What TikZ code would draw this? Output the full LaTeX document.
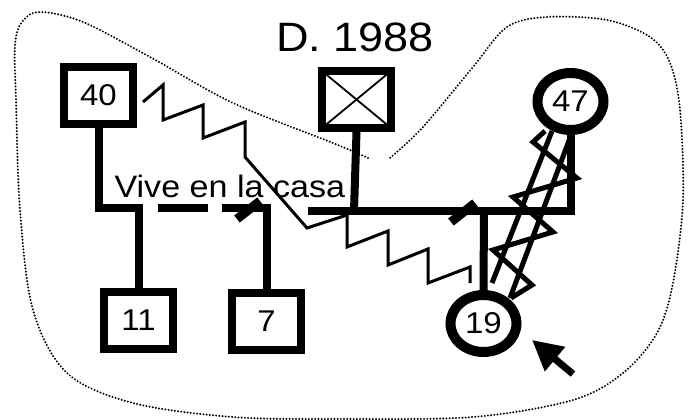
\documentclass[tikz,border=0pt]{standalone}
\usepackage{fontspec}
\setmainfont[FakeStretch=1.1]{Liberation Sans}
\usetikzlibrary{arrows.meta,shapes.geometric}

\begin{document}
\begin{tikzpicture}[x=1pt,y=-1pt,
  male/.style={rectangle, draw=black, line width=8pt, fill=white, inner sep=0pt,
    minimum width=69pt, minimum height=57pt, font=\fontsize{30}{30}\selectfont},
  female/.style={ellipse, draw=black, line width=10pt, fill=white, inner sep=0pt,
    minimum width=66pt, minimum height=57pt, font=\fontsize{30}{30}\selectfont},
  kin/.style={line width=8pt, line cap=butt, line join=miter},
  cutmark/.style={line width=9pt, line cap=butt},
  zig/.style={line width=3pt, line join=miter},
  fused/.style={line width=5pt, line join=miter},
  household/.style={line width=2.2pt, line cap=round, dash pattern=on 0pt off 3.2pt},
]
\useasboundingbox (0,0) rectangle (689,420);

% people
\node[male] (p40) at (98.5,95.5) {40};
\node[male] (p11) at (138.5,320) {11};
\node[male] (p7) at (266.5,321.5) {7};
\node[male] (pd) at (356.5,99.5) {};
\node[female] (p47) at (570.5,101.5) {47};
\node[female] (p19) at (483.5,323.5) {19};

% deceased cross
\draw[line width=1.8pt] (pd.north west) ++(4,4) -- ([shift={(-4,-4)}]pd.south east);
\draw[line width=1.8pt] (pd.north east) ++(-4,4) -- ([shift={(4,-4)}]pd.south west);

% titles
\node[anchor=base, font=\fontsize{41}{41}\selectfont] (title) at (355,52) {D. 1988};
\node[anchor=base west, font=\fontsize{31}{31}\selectfont] (lbl) at (111,197) {Vive en la casa};

% first union: 40 and 11, 7
\coordinate (c1) at (98.5,207.5);
\coordinate (c2) at (138.5,207.5);
\draw[kin] (p40.south) -- (c1) -- ([xshift=4pt]c2) ;
\draw[kin] (c2) -- (p11.north);
\coordinate (d1a) at (158,207.5);
\coordinate (d1b) at (208,207.5);
\draw[kin] (d1a) -- (d1b);
\coordinate (d2a) at (222,207.5);
\coordinate (d2b) at (266.5,207.5);
\draw[kin] (d2a) -- ([xshift=4pt]d2b);
\draw[kin] (d2b) -- (p7.north);
\coordinate (s1a) at (237,219);
\coordinate (s1b) at (260,201);
\draw[cutmark] (s1a) -- (s1b);

% second union: deceased man and 47, child 19
\coordinate (r1) at (308,211);
\coordinate (r2) at (570.5,211);
\draw[kin] (r1) -- ([xshift=4pt]r2);
\draw[kin] (p47.south) -- ([yshift=4pt]r2);
\coordinate (rd) at (354,211);
\draw[kin] (pd.south) -- (rd);
\coordinate (r19) at (484,211);
\draw[kin] (r19) -- (p19.north);
\coordinate (s2a) at (451,222);
\coordinate (s2b) at (475,203);
\draw[cutmark] (s2a) -- (s2b);

% conflict line from 40 to 19
\draw[zig] (143,102) -- (163,85) -- (163,120) -- (203,105) -- (203,138)
  -- (245,122) -- (245,157) -- (307,228) -- (347,215) -- (347,247)
  -- (388,231) -- (388,265) -- (428,249) -- (428,283) -- (470,267) -- (470,283);

% fused and conflictive tie between 47 and 19
\draw[fused] (545,131) -- (533,142) -- (577,178) -- (513,197) -- (553,232)
  -- (493,250) -- (532,285) -- (511,298);
\draw[fused] (552,131) -- (492,283);
\draw[fused] (570,138) -- (510,298);

% index person arrow
\coordinate (atail) at (573,374);
\coordinate (ahead) at (532,340);
\draw[line width=7pt, -{Triangle[length=30pt,width=30pt]}] (atail) -- (ahead);

% household boundary
\draw[household] plot[smooth, tension=0.55] coordinates {
  (368,158) (333,143) (233,103) (150,57) (83,22) (40,12) (22,22) (15,45)
  (16,100) (20,210) (33,310) (67,373) (133,403) (233,417) (340,419)
  (473,417) (573,400) (623,373) (657,333) (673,283) (683,200) (680,110)
  (670,63) (650,37) (607,20) (547,17) (507,27) (473,67) (423,127) (390,158)};
\end{tikzpicture}
\end{document}
